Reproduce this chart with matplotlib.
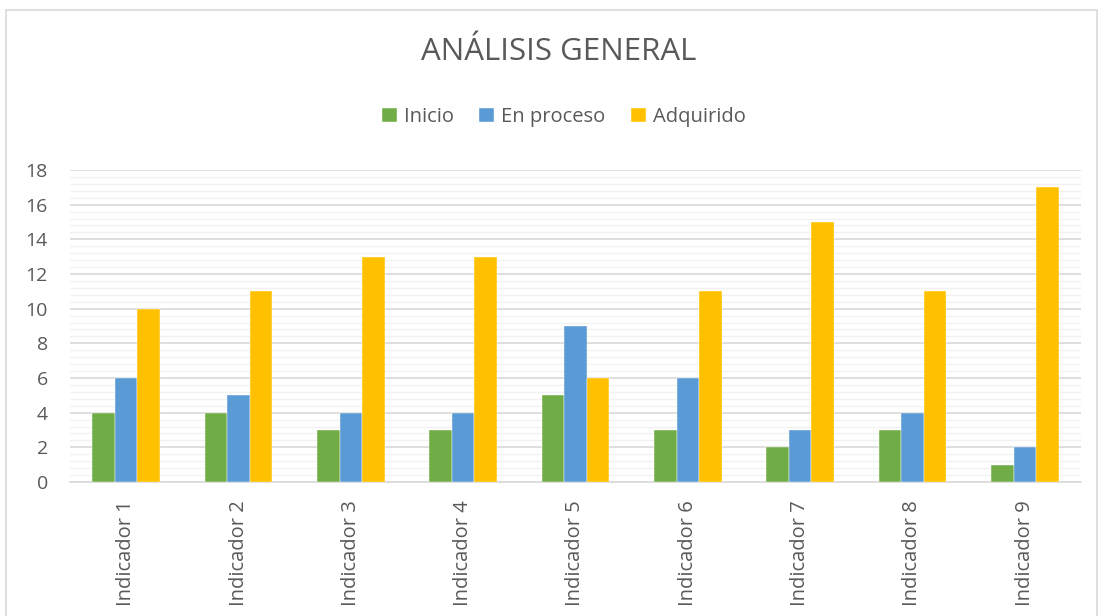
import matplotlib
matplotlib.use('Agg')
import matplotlib.pyplot as plt
import matplotlib.patches as patches
from matplotlib.ticker import MultipleLocator
import numpy as np

categories = [f"Indicador {i}" for i in range(1, 10)]
inicio     = [4, 4, 3, 3, 5, 3, 2, 3, 1]
en_proceso = [6, 5, 4, 4, 9, 6, 3, 4, 2]
adquirido  = [10, 11, 13, 13, 6, 11, 15, 11, 17]
series_names = ['Inicio', 'En proceso', 'Adquirido']

COLORS = ['#70AD47', '#5B9BD5', '#FFC000']
TEXT = '#595959'
FONT = ['Open Sans', 'DejaVu Sans']

plt.rcParams['font.family'] = FONT

fig = plt.figure(figsize=(10.99, 6.16), dpi=100)
ax = fig.add_axes([70 / 1099, 1 - 482 / 616, (1081 - 70) / 1099, (482 - 170) / 616])

# chart border (bottom is cut off in the original)
fig.add_artist(patches.Rectangle((6 / 1099, -0.05), (1097 - 6) / 1099, 1.05 - 10 / 616,
                                 transform=fig.transFigure, fill=False,
                                 edgecolor='#D9D9D9', linewidth=1.2))

x = np.arange(len(categories))
w = 0.2
for i, (vals, name) in enumerate(zip([inicio, en_proceso, adquirido], series_names)):
    ax.bar(x + (i - 1) * w, vals, width=w, color=COLORS[i], label=name,
           edgecolor='white', linewidth=0.3, zorder=3)

ax.set_xlim(-0.5, len(categories) - 0.5)
ax.set_ylim(0, 18)
ax.yaxis.set_major_locator(MultipleLocator(2))
ax.yaxis.set_minor_locator(MultipleLocator(0.4))
ax.grid(axis='y', which='major', color='#D9D9D9', linewidth=1.2, zorder=0)
ax.grid(axis='y', which='minor', color='#F2F2F2', linewidth=1.0, zorder=0)
ax.set_axisbelow(True)

for s in ['top', 'right', 'left']:
    ax.spines[s].set_visible(False)
ax.spines['bottom'].set_color('#D9D9D9')
ax.spines['bottom'].set_linewidth(1.2)

ax.set_xticks(x)
ax.set_xticklabels(categories, rotation=90, fontsize=14.5, color=TEXT)
ax.tick_params(axis='x', length=0, pad=13)
ax.tick_params(axis='y', which='both', length=0, labelsize=14, labelcolor=TEXT, pad=16)

fig.text(0.508, 1 - 52 / 616, 'ANÁLISIS GENERAL', ha='center', va='center',
         fontsize=22.5, color=TEXT)

fig.legend(loc='center', bbox_to_anchor=(0.513, 1 - 117 / 616), ncol=3, frameon=False,
           fontsize=14.5, labelcolor=TEXT, handlelength=0.75, handleheight=0.75,
           handletextpad=0.35, columnspacing=1.25)

fig.savefig('out.png', dpi=100)
